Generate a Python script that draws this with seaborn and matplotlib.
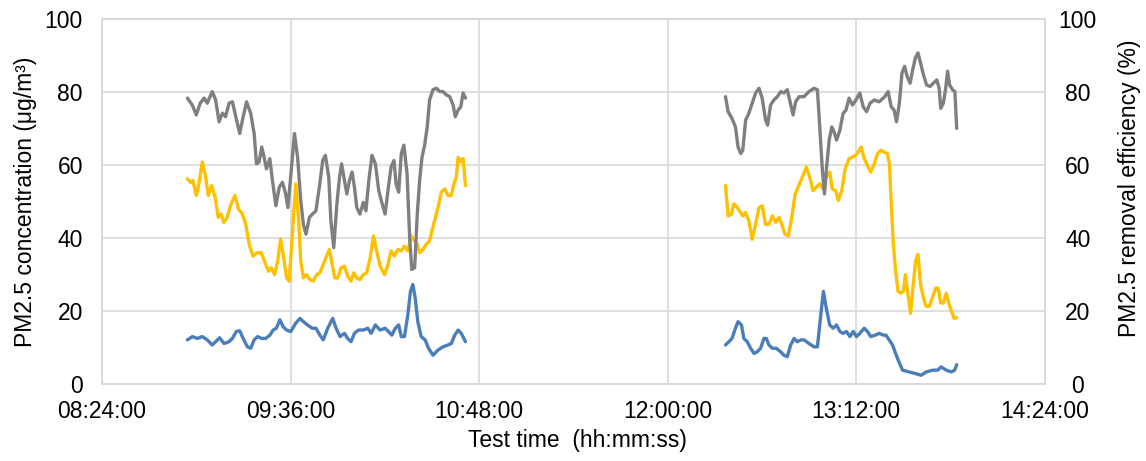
import matplotlib
matplotlib.use("Agg")
import matplotlib.pyplot as plt
from matplotlib.ticker import FuncFormatter
import pandas as pd
import seaborn as sns

# times are minutes after midnight
# --- morning run ---
t_blue_1 = [536.6, 538.5, 540.4, 542.3, 544.2, 546.1, 547.4, 548.9, 550.6, 552.5, 553.8, 555.3, 556.6,
            557.9, 559.5, 560.8, 562.1, 563.4, 565.0, 566.5, 568.1, 569.4, 570.6, 571.9, 573.2, 574.5,
            576.1, 578.0, 579.6, 580.9, 582.5, 584.2, 585.7, 587.2, 588.5, 590.2, 592.1, 593.4, 594.9,
            596.6, 597.8, 599.1, 600.4, 602.0, 603.8, 605.5, 606.8, 608.4, 610.2, 612.1, 613.4, 614.7,
            616.0, 617.3, 618.3, 619.5, 620.8, 621.8, 622.7, 623.6, 624.6, 625.9, 627.4, 628.7, 630.4,
            632.3, 634.2, 636.1, 637.4, 638.7, 640.0, 641.2, 642.8]
blue_1 = [12.1, 13.0, 12.5, 13.0, 12.1, 10.7, 11.6, 12.7, 11.1, 11.6, 12.5, 14.4, 14.6,
          12.5, 10.2, 9.8, 12.1, 13.0, 12.5, 12.5, 13.4, 14.8, 15.3, 17.6, 15.7, 14.8,
          14.4, 16.7, 18.0, 17.1, 16.2, 15.3, 15.3, 13.4, 12.1, 15.3, 18.0, 15.3, 13.0,
          13.9, 12.5, 11.6, 13.9, 14.8, 14.8, 15.3, 13.9, 16.2, 14.8, 15.3, 14.4, 13.4,
          15.3, 16.2, 13.0, 13.0, 19.0, 25.4, 27.3, 23.6, 17.1, 13.0, 12.1, 9.8, 7.9,
          9.3, 10.2, 10.7, 11.1, 13.4, 14.8, 13.9, 11.6]

t_yellow_1 = [536.6, 537.8, 538.7, 540.0, 541.0, 542.3, 543.6, 544.6, 545.9, 547.2, 548.4, 549.5, 550.5,
              551.8, 553.3, 554.8, 556.1, 557.6, 558.9, 560.2, 561.7, 563.2, 564.8, 566.3, 567.6, 568.6,
              569.9, 571.1, 572.2, 573.3, 574.5, 575.5, 576.5, 578.0, 579.1, 579.9, 580.9, 582.1, 583.4,
              584.7, 586.0, 587.2, 588.5, 589.5, 590.8, 591.8, 592.9, 594.0, 595.3, 596.6, 597.8, 599.1,
              600.1, 601.3, 602.5, 603.8, 605.1, 606.4, 607.7, 608.9, 610.2, 611.9, 613.2, 614.4, 615.7,
              617.0, 618.3, 619.5, 620.8, 622.1, 623.4, 624.4, 625.3, 626.6, 627.8, 629.1, 630.0, 631.0,
              632.3, 633.6, 634.9, 636.1, 637.4, 638.4, 639.3, 640.0, 641.0, 641.9, 642.8]
yellow_1 = [56.3, 55.3, 55.8, 51.7, 54.9, 60.9, 56.7, 51.7, 54.4, 51.2, 45.7, 46.6, 44.3,
            45.7, 49.4, 51.7, 48.0, 46.6, 43.8, 38.3, 35.1, 36.0, 36.0, 33.2, 30.9, 31.9,
            30.0, 33.7, 39.7, 35.1, 29.1, 28.2, 39.2, 54.9, 44.8, 33.7, 29.1, 30.0, 28.6,
            28.2, 30.0, 30.5, 32.8, 34.6, 36.9, 33.2, 29.1, 29.1, 31.9, 32.3, 29.6, 28.2,
            30.5, 29.1, 28.6, 30.0, 30.5, 34.6, 40.6, 36.5, 32.3, 30.0, 32.8, 36.5, 35.1,
            36.9, 36.5, 37.8, 36.5, 40.6, 39.2, 38.3, 36.0, 36.9, 38.3, 39.2, 42.0, 44.8,
            48.4, 52.6, 53.5, 51.7, 51.7, 54.9, 56.7, 62.2, 60.9, 61.8, 54.4]

t_gray_1 = [536.6, 538.5, 540.0, 541.5, 543.0, 544.2, 546.1, 547.4, 548.7, 550.0, 551.2, 552.5, 553.8,
            555.1, 556.6, 557.9, 559.2, 560.8, 562.1, 563.0, 564.0, 565.0, 565.9, 566.8, 568.1, 569.1,
            570.4, 571.7, 572.9, 574.0, 575.0, 576.5, 577.5, 578.7, 579.9, 580.9, 581.9, 583.2, 584.4,
            585.7, 587.0, 588.3, 589.3, 590.6, 591.4, 592.5, 593.7, 594.7, 595.5, 596.6, 597.5, 598.5,
            599.5, 600.4, 601.3, 602.5, 603.8, 604.8, 605.9, 607.1, 608.4, 609.7, 611.0, 612.1, 613.2,
            614.4, 615.5, 616.3, 617.3, 618.3, 619.3, 620.5, 621.5, 622.3, 623.4, 624.4, 625.3, 626.2,
            627.2, 628.2, 629.1, 630.4, 631.7, 633.0, 634.2, 635.5, 636.8, 638.1, 638.9, 640.0, 641.0,
            641.9, 642.8]
gray_1 = [78.4, 76.5, 73.8, 77.0, 78.4, 77.0, 80.2, 77.9, 71.9, 74.3, 73.3, 77.0, 77.4,
          73.3, 68.7, 73.3, 77.4, 74.2, 68.7, 60.4, 60.9, 65.0, 62.2, 59.0, 61.8, 55.8,
          48.9, 54.0, 55.3, 52.6, 48.4, 60.4, 68.7, 62.2, 50.3, 43.8, 41.1, 45.7, 46.6,
          47.5, 54.0, 61.3, 62.7, 56.7, 44.8, 37.4, 49.4, 56.7, 60.4, 55.8, 52.1, 55.8,
          58.1, 54.0, 48.4, 46.6, 49.8, 47.5, 55.8, 62.7, 60.4, 53.0, 49.4, 46.6, 53.0,
          59.5, 61.3, 54.9, 52.6, 63.2, 65.5, 57.6, 40.1, 31.4, 31.9, 46.6, 55.8, 62.2,
          65.5, 70.5, 77.9, 80.7, 81.1, 80.2, 80.2, 79.3, 78.8, 76.5, 73.3, 75.1, 76.0,
          79.8, 78.4]

# --- afternoon run ---
t_blue_2 = [742.1, 743.4, 744.6, 745.9, 746.9, 748.2, 749.1, 750.4, 751.7, 753.0, 754.2, 755.5, 756.8,
            757.7, 758.7, 760.0, 761.5, 763.2, 764.4, 765.7, 767.0, 768.3, 769.5, 770.9, 772.1, 774.0,
            775.9, 777.2, 778.5, 779.5, 780.6, 781.9, 783.2, 784.5, 785.8, 787.0, 788.3, 789.6, 790.9,
            792.1, 793.4, 795.1, 796.3, 797.6, 799.3, 800.8, 802.4, 803.4, 805.9, 807.8, 809.7, 812.3,
            814.9, 816.8, 818.7, 821.2, 823.2, 824.4, 826.4, 828.3, 829.6, 830.4]
blue_2 = [10.7, 11.6, 12.5, 15.3, 17.1, 16.2, 12.5, 11.6, 9.8, 8.4, 8.8, 9.8, 12.5,
          12.5, 10.7, 9.8, 9.8, 8.8, 7.9, 7.5, 10.7, 12.5, 11.6, 12.1, 12.1, 11.1,
          10.2, 10.2, 19.0, 25.4, 20.8, 16.2, 15.3, 16.2, 14.4, 13.9, 14.4, 13.0, 14.4,
          13.0, 13.9, 15.3, 14.4, 13.0, 13.4, 13.9, 13.4, 13.4, 10.7, 7.0, 3.8, 3.3,
          2.8, 2.4, 3.3, 3.8, 3.8, 4.7, 3.8, 3.3, 3.8, 5.3]

t_yellow_2 = [742.1, 743.1, 744.4, 745.3, 746.6, 747.9, 748.7, 749.8, 751.0, 752.3, 753.6, 754.9, 756.1,
              757.4, 758.7, 760.0, 761.3, 762.5, 763.6, 764.8, 766.1, 767.4, 768.7, 770.2, 771.4, 773.0,
              774.3, 775.5, 776.8, 778.1, 779.4, 780.6, 781.9, 782.9, 784.2, 785.2, 786.5, 787.8, 789.3,
              790.6, 791.9, 793.2, 793.9, 795.1, 796.3, 797.6, 798.9, 800.2, 801.5, 802.6, 803.9, 804.7,
              805.4, 806.2, 807.1, 808.0, 809.0, 810.0, 810.8, 811.8, 812.8, 813.8, 814.7, 815.6, 816.6,
              817.7, 818.7, 819.9, 821.1, 822.4, 823.3, 824.3, 825.3, 826.4, 827.4, 828.4, 829.4, 830.4]
yellow_2 = [54.4, 46.1, 46.6, 49.4, 48.4, 47.0, 46.1, 47.0, 44.8, 39.7, 43.8, 48.4, 48.9,
            43.8, 43.8, 46.1, 44.3, 45.7, 43.8, 41.1, 40.6, 45.7, 52.1, 54.6, 56.7, 59.5,
            56.7, 53.0, 54.0, 54.9, 53.5, 56.7, 58.1, 53.5, 53.0, 50.3, 53.0, 59.0, 61.8,
            62.2, 62.7, 64.1, 65.0, 61.8, 59.9, 58.1, 60.4, 63.2, 64.1, 63.6, 63.2, 60.4,
            49.4, 38.3, 30.9, 25.4, 24.9, 25.4, 30.0, 24.5, 19.4, 27.3, 33.7, 35.5, 27.3,
            23.6, 21.3, 21.3, 23.6, 26.3, 26.3, 22.2, 22.2, 24.9, 22.2, 19.9, 18.0, 18.2]

t_gray_2 = [742.1, 743.1, 744.6, 745.9, 746.9, 747.9, 748.7, 749.8, 751.0, 752.3, 753.6, 754.9, 756.1,
            757.4, 758.2, 759.3, 760.6, 761.9, 763.2, 764.4, 765.7, 766.6, 767.9, 768.9, 770.2, 772.1,
            774.0, 775.9, 777.2, 778.1, 779.1, 779.9, 780.6, 781.7, 782.7, 783.6, 784.5, 785.8, 787.0,
            788.1, 789.3, 790.6, 791.9, 793.4, 794.7, 796.0, 797.3, 798.9, 800.8, 802.9, 804.2, 805.4,
            806.5, 807.4, 808.5, 809.5, 810.5, 811.5, 812.6, 813.6, 814.6, 815.6, 816.6, 817.7, 818.9,
            820.2, 821.5, 822.8, 823.7, 824.3, 825.3, 826.2, 826.9, 827.7, 828.8, 829.7, 830.4]
gray_2 = [78.8, 74.7, 72.8, 70.5, 65.0, 63.2, 64.1, 72.4, 74.2, 77.0, 79.8, 81.1, 78.4,
          72.4, 71.0, 76.5, 77.9, 78.8, 80.2, 79.8, 80.7, 77.9, 73.8, 77.4, 78.8, 78.8,
          80.2, 81.1, 80.7, 70.5, 58.6, 52.1, 58.6, 66.9, 70.5, 69.1, 66.9, 69.6, 74.2,
          75.1, 78.4, 76.5, 77.9, 79.8, 76.0, 74.7, 77.0, 77.9, 77.4, 78.8, 80.2, 76.0,
          75.1, 71.9, 77.0, 85.3, 87.1, 84.3, 82.5, 86.2, 89.4, 90.8, 88.0, 84.8, 82.0,
          81.6, 82.5, 83.4, 81.1, 75.6, 77.0, 81.1, 85.8, 82.0, 80.7, 80.2, 70.1]

x_ticks = [504, 576, 648, 720, 792, 864]   # 08:24 ... 14:24
y_ticks = [0, 20, 40, 60, 80, 100]


def frame(t, v, name, seg):
    return pd.DataFrame({"time": t, "value": v, "series": name, "segment": seg})


conc = pd.concat([frame(t_blue_1, blue_1, "indoor", 1), frame(t_blue_2, blue_2, "indoor", 2),
                  frame(t_yellow_1, yellow_1, "outdoor", 1), frame(t_yellow_2, yellow_2, "outdoor", 2)])
eff = pd.concat([frame(t_gray_1, gray_1, "efficiency", 1), frame(t_gray_2, gray_2, "efficiency", 2)])

sns.set_style("white")
plt.rcParams["font.family"] = ["Liberation Sans", "DejaVu Sans"]
plt.rcParams["text.color"] = "black"
FS = 16.5
GRID = "#d9d9d9"

fig = plt.figure(figsize=(11.46, 4.61), dpi=100)
ax = fig.add_axes([0.089, 0.167, 0.8226, 0.791])

sns.lineplot(data=conc, x="time", y="value", hue="series", units="segment", estimator=None,
             sort=False, palette={"indoor": "#4a7ebb", "outdoor": "#ffc000"},
             lw=2.4, legend=False, ax=ax)

ax2 = ax.twinx()
sns.lineplot(data=eff, x="time", y="value", units="segment", estimator=None, sort=False,
             color="#7f7f7f", lw=2.4, legend=False, ax=ax2)

def hhmmss(m, _):
    return f"{int(m // 60):02d}:{int(m % 60):02d}:00"

for a in (ax, ax2):
    a.set_xlim(504, 864)
    a.set_ylim(0, 100)
    a.set_yticks(y_ticks)
    a.set_xlabel("")
    a.set_ylabel("")
    for s in a.spines.values():
        s.set_color(GRID)
        s.set_linewidth(1.2)

ax.set_xticks(x_ticks)
ax.xaxis.set_major_formatter(FuncFormatter(hhmmss))
ax.grid(True, color=GRID, lw=1.2)
ax.set_axisbelow(True)
ax.tick_params(axis="x", length=0, labelsize=FS, pad=11.5, colors="black")
ax.tick_params(axis="y", length=0, labelsize=FS, pad=13.7, colors="black")
ax2.tick_params(axis="y", length=0, labelsize=FS, pad=23.8, colors="black")
for lbl in ax2.get_yticklabels():
    lbl.set_horizontalalignment("center")

fig.text(0.022, 0.562, "PM2.5 concentration (μg/m³)", rotation=90, ha="center", va="center",
         fontsize=FS, color="black")
fig.text(0.986, 0.592, "PM2.5 removal efficiency (%)", rotation=90, ha="center", va="center",
         fontsize=FS, color="black")
fig.text(0.5035, 0.0434, "Test time  (hh:mm:ss)", ha="center", va="center", fontsize=FS, color="black")

fig.savefig("out.png", dpi=100)
